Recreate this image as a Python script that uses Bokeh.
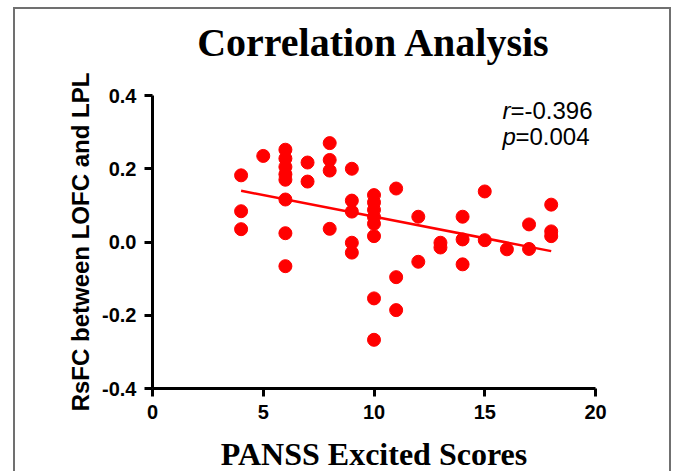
import numpy as np
from bokeh.plotting import figure
from bokeh.models import Label, LinearAxis, FixedTicker, PrintfTickFormatter, Range1d
from bokeh.embed import file_html
from bokeh.resources import INLINE

# ---- data ----
scores = [4, 4, 4,
          5,
          6, 6, 6, 6, 6, 6, 6, 6,
          7, 7,
          8, 8, 8, 8,
          9, 9, 9, 9, 9,
          10, 10, 10, 10, 10, 10, 10, 10,
          11, 11, 11,
          12, 12,
          13, 13,
          14, 14, 14,
          15, 15,
          16,
          17, 17,
          18, 18, 18]
rsfc = [0.182, 0.084, 0.035,
        0.235,
        0.252, 0.228, 0.205, 0.185, 0.170, 0.116, 0.024, -0.066,
        0.217, 0.165,
        0.270, 0.224, 0.195, 0.036,
        0.200, 0.113, 0.083, -0.002, -0.029,
        0.128, 0.108, 0.088, 0.068, 0.050, 0.016, -0.154, -0.267,
        0.146, -0.096, -0.186,
        0.069, -0.054,
        -0.002, -0.015,
        0.069, 0.007, -0.061,
        0.138, 0.005,
        -0.020,
        0.048, -0.019,
        0.102, 0.029, 0.016]
x_ticks = [0, 5, 10, 15, 20]
y_ticks = [-0.4, -0.2, 0.0, 0.2, 0.4]
title_text = "Correlation Analysis"
x_label = "PANSS Excited Scores"
y_label = "RsFC between LOFC and LPL"
r_text = "=-0.396"
p_text = "=0.004"

# linear fit through the points
slope, intercept = np.polyfit(scores, rsfc, 1)
fit_x = [min(scores), max(scores)]
fit_y = [intercept + slope * v for v in fit_x]

RED = "#FF0000"
GRAY = "#707070"

p = figure(frame_width=443, frame_height=293,
           x_range=Range1d(0, 20), y_range=Range1d(-0.4, 0.4),
           output_backend="svg", toolbar_location=None,
           min_border_left=152, min_border_right=77,
           min_border_top=95, min_border_bottom=88)

# outer gray frame of the picture, drawn as a background behind a transparent canvas
p.border_fill_color = None
p.background_fill_color = "white"
p.styles = {
    "background": (
        f"linear-gradient({GRAY},{GRAY}) 13px 7px / 2px 100% no-repeat, "
        f"linear-gradient({GRAY},{GRAY}) 13px 7px / 658px 2px no-repeat, "
        f"linear-gradient({GRAY},{GRAY}) 669px 7px / 2px 100% no-repeat, "
        "#ffffff"
    )
}

p.outline_line_color = None
p.xgrid.visible = False
p.ygrid.visible = False

p.line(fit_x, fit_y, line_color=RED, line_width=2.5)
p.scatter(scores, rsfc, size=13, fill_color=RED, line_color=RED)

for ax in (p.xaxis[0], p.yaxis[0]):
    ax.axis_line_width = 3
    ax.axis_line_color = "black"
    ax.major_tick_line_width = 3
    ax.major_tick_line_color = "black"
    ax.major_tick_out = 8
    ax.major_tick_in = 0
    ax.minor_tick_line_color = None
    ax.major_label_text_font = "Liberation Sans"
    ax.major_label_text_font_style = "bold"
    ax.major_label_text_font_size = "20px"
    ax.major_label_text_color = "black"
    ax.major_label_standoff = 8

p.xaxis.ticker = FixedTicker(ticks=x_ticks)
p.yaxis.ticker = FixedTicker(ticks=y_ticks)
p.yaxis.formatter = PrintfTickFormatter(format="%.1f")

p.xaxis.axis_label = x_label
p.xaxis.axis_label_text_font = "Liberation Serif"
p.xaxis.axis_label_text_font_style = "bold"
p.xaxis.axis_label_text_font_size = "32px"
p.xaxis.axis_label_text_color = "black"
p.xaxis.axis_label_standoff = 14

p.yaxis.axis_label = y_label
p.yaxis.axis_label_text_font = "Liberation Sans"
p.yaxis.axis_label_text_font_style = "bold"
p.yaxis.axis_label_text_font_size = "24px"
p.yaxis.axis_label_text_color = "black"
p.yaxis.axis_label_standoff = 5

# chart title, carried by a bare axis above the frame
title_axis = LinearAxis(ticker=FixedTicker(ticks=[]), axis_line_color=None,
                        major_tick_line_color=None, minor_tick_line_color=None,
                        major_tick_out=0, major_tick_in=0, major_label_standoff=0,
                        major_label_text_font_size="0px",
                        axis_label=title_text, axis_label_standoff=31,
                        axis_label_text_font="Liberation Serif",
                        axis_label_text_font_style="bold",
                        axis_label_text_font_size="40px",
                        axis_label_text_color="black")
p.add_layout(title_axis, "above")

for letter, rest, ydata, off in (("r", r_text, 0.360, 8), ("p", p_text, 0.287, 13)):
    p.add_layout(Label(x=15.8, y=ydata, text=letter, text_align="left",
                       text_baseline="alphabetic", text_font="Liberation Sans",
                       text_font_style="italic", text_font_size="24px",
                       text_color="black"))
    p.add_layout(Label(x=15.8, y=ydata, x_offset=off, text=rest, text_align="left",
                       text_baseline="alphabetic", text_font="Liberation Sans",
                       text_font_size="24px", text_color="black"))

open("out.html", "w").write(file_html(p, INLINE))
